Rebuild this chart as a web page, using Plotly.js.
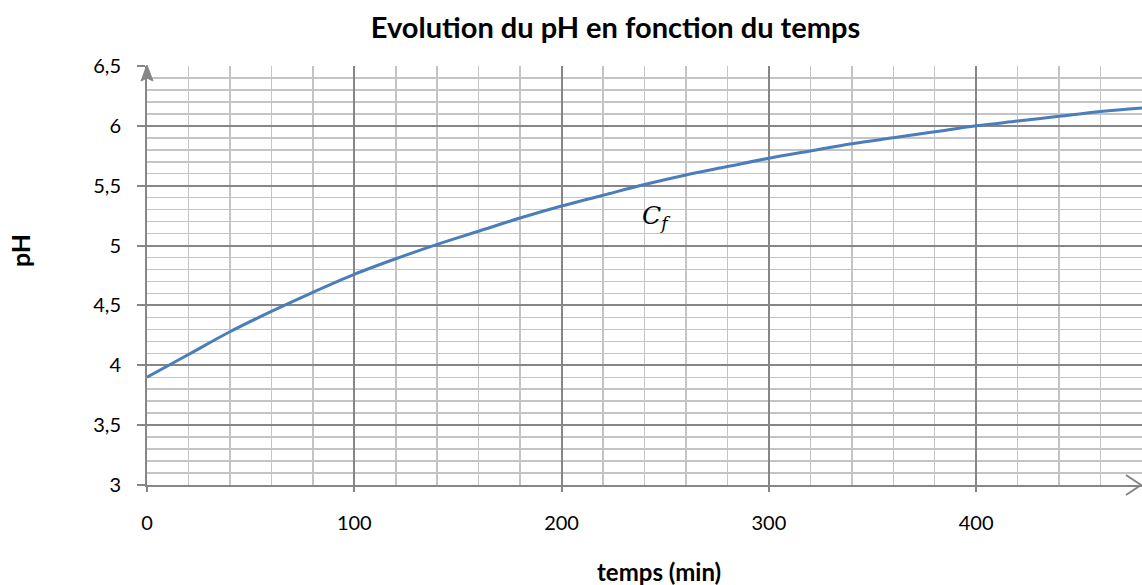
<!DOCTYPE html>
<html>
<head>
<meta charset="utf-8">
<script src="https://cdn.plot.ly/plotly-3.0.1.min.js"></script>
<style>html,body{margin:0;padding:0;background:#fff;}#chart{width:1142px;height:585px;}</style>
</head>
<body>
<div id="chart"></div>
<script>
const timeMin = [0,20,40,60,80,100,120,140,160,180,200,220,240,260,280,300,320,340,360,380,400,420,440,460,480];
const pHValues = [3.90,4.09,4.28,4.45,4.61,4.76,4.89,5.01,5.12,5.23,5.33,5.42,5.51,5.59,5.66,5.73,5.79,5.85,5.90,5.95,6.00,6.04,6.08,6.12,6.15];
const xTicks = [0,100,200,300,400];
const yTicks = [3,3.5,4,4.5,5,5.5,6,6.5];
const curveLabel = {x: 246, y: 5.24, text: '<i>C</i><sub><i>f</i></sub>'};

const axisGray = '#868686';
const minorGray = '#c4c4c4';
const font = 'Lato, "Open Sans", sans-serif';

const trace = {
  x: timeMin, y: pHValues, type: 'scatter', mode: 'lines',
  line: {color: '#4a7ebb', width: 3, shape: 'spline'},
  hoverinfo: 'x+y', showlegend: false
};

const layout = {
  width: 1142, height: 585,
  margin: {l: 147, r: 0, t: 66, b: 100},
  paper_bgcolor: '#fff', plot_bgcolor: '#fff',
  separators: ', ',
  font: {family: font, color: '#000', size: 20},
  title: {text: '<b>Evolution du pH en fonction du temps</b>', font: {family: font, size: 29, color: '#000'}, x: 0.539, xanchor: 'center', y: 0.953, yanchor: 'middle'},
  xaxis: {
    range: [0, 480], tickvals: xTicks, ticktext: xTicks.map(String),
    showgrid: true, gridcolor: axisGray, gridwidth: 2,
    minor: {dtick: 20, tick0: 0, showgrid: true, gridcolor: minorGray, gridwidth: 1.5},
    showline: true, linecolor: axisGray, linewidth: 2,
    ticks: 'outside', ticklen: 5, tickcolor: axisGray, tickwidth: 2,
    ticklabelstandoff: 14,
    zeroline: false, fixedrange: true
  },
  yaxis: {
    range: [3, 6.5], tickvals: yTicks,
    showgrid: true, gridcolor: axisGray, gridwidth: 2,
    minor: {dtick: 0.1, tick0: 3, showgrid: true, gridcolor: minorGray, gridwidth: 1.5},
    showline: true, linecolor: axisGray, linewidth: 2,
    ticks: 'outside', ticklen: 8, tickcolor: axisGray, tickwidth: 2,
    ticklabelstandoff: 12,
    zeroline: false, fixedrange: true
  },
  annotations: [
    {x: curveLabel.x, y: curveLabel.y, xref: 'x', yref: 'y', text: curveLabel.text,
     showarrow: false, font: {family: '"DejaVu Serif", "Liberation Serif", serif', size: 25, color: '#000'},
     xanchor: 'center', yanchor: 'middle'},
    {x: 0.5146, y: -0.2053, xref: 'paper', yref: 'paper', text: '<b>temps (min)</b>', showarrow: false,
     font: {family: font, size: 24, color: '#000'}, xanchor: 'center', yanchor: 'middle'},
    {x: -0.1276, y: 0.5585, xref: 'paper', yref: 'paper', text: '<b>pH</b>', showarrow: false, textangle: -90,
     font: {family: font, size: 25, color: '#000'}, xanchor: 'center', yanchor: 'middle'}
  ],
  shapes: [
    {type: 'path', xref: 'paper', yref: 'paper', xsizemode: 'pixel', ysizemode: 'pixel', xanchor: 0, yanchor: 1, layer: 'above',
     path: 'M -6 -15 L 0 1 L 6 -15 L 0 -12 Z', fillcolor: axisGray, line: {color: axisGray, width: 1}},
    {type: 'path', xref: 'paper', yref: 'paper', xsizemode: 'pixel', ysizemode: 'pixel', xanchor: 1, yanchor: 0, layer: 'above',
     path: 'M -16 10 L -1 0 L -16 -10', line: {color: axisGray, width: 2}}
  ]
};

Plotly.newPlot('chart', [trace], layout, {displayModeBar: false, staticPlot: true});
</script>
</body>
</html>
